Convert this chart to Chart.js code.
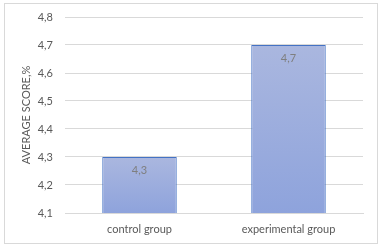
<!DOCTYPE html>
<html>
<head>
<meta charset="utf-8">
<script src="https://cdn.jsdelivr.net/npm/chart.js@4"></script>
<style>
  html, body { margin: 0; padding: 0; background: #fff; }
  .frame { position: absolute; left: 4px; top: 3px; width: 372px; height: 239px; border: 1px solid #d9d9d9; }
  .wrap { position: absolute; left: 0; top: 0; width: 383px; height: 248px; }
</style>
</head>
<body>
<div class="frame"></div>
<div class="wrap"><canvas id="chart" width="383" height="248"></canvas></div>
<script>
const categories = ['control group', 'experimental group'];
const scores = [4.3, 4.7];
const yTicks = [4.1, 4.2, 4.3, 4.4, 4.5, 4.6, 4.7, 4.8];

const FONT = 'Lato, "Open Sans", sans-serif';
const fmt = v => v.toFixed(1).replace('.', ',');

function barGradient(ctx) {
  const chart = ctx.chart;
  const y = chart.scales.y;
  if (!y || ctx.raw == null) return '#9aacdd';
  const top = y.getPixelForValue(ctx.raw);
  const bottom = y.getPixelForValue(y.min);
  if (!isFinite(top) || !isFinite(bottom)) return '#9aacdd';
  const g = chart.ctx.createLinearGradient(0, top, 0, bottom);
  g.addColorStop(0, '#aab7df');
  g.addColorStop(1, '#8ea3dc');
  return g;
}

const valueLabels = {
  id: 'valueLabels',
  afterDatasetsDraw(chart) {
    const c = chart.ctx;
    c.save();
    c.font = '11px ' + FONT;
    c.fillStyle = '#7f7f7f';
    c.textAlign = 'center';
    c.textBaseline = 'top';
    chart.getDatasetMeta(0).data.forEach((bar, i) => {
      c.fillText(fmt(scores[i]), bar.x, bar.y + 8);
    });
    c.restore();
  }
};

new Chart(document.getElementById('chart'), {
  type: 'bar',
  data: {
    labels: categories,
    datasets: [{
      data: scores,
      backgroundColor: barGradient,
      borderColor: '#4472c4',
      borderWidth: 1,
      categoryPercentage: 1,
      barPercentage: 0.5,
    }],
  },
  options: {
    responsive: false,
    animation: false,
    layout: { padding: { left: 20, right: 20, top: 17, bottom: 9.8 } },
    plugins: { legend: { display: false }, tooltip: { enabled: false } },
    scales: {
      x: {
        grid: { display: false },
        border: { display: true, color: '#d9d9d9' },
        ticks: { color: '#595959', font: { family: FONT, size: 11 }, padding: 2 },
      },
      y: {
        min: 4.1,
        max: 4.8,
        afterFit: axis => { axis.width = 45; axis.paddingTop = 0; axis.paddingBottom = 0; },
        afterBuildTicks: axis => { axis.ticks = yTicks.map(v => ({ value: v })); },
        grid: { color: '#d9d9d9', drawTicks: false },
        border: { display: false },
        ticks: {
          color: '#595959',
          font: { family: FONT, size: 11 },
          padding: 12,
          callback: v => fmt(v),
        },
        title: {
          display: true,
          text: 'AVERAGE SCORE,%',
          color: '#595959',
          font: { family: FONT, size: 11 },
          padding: { top: 0, bottom: 4 },
        },
      },
    },
  },
  plugins: [valueLabels],
});
</script>
</body>
</html>
